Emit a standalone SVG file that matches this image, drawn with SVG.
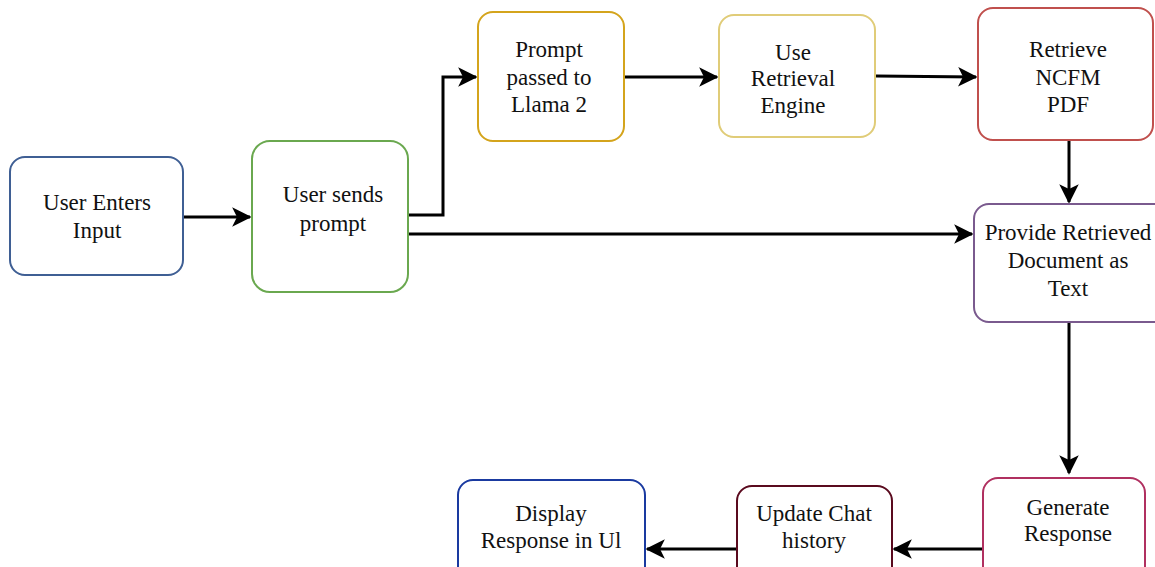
<svg xmlns="http://www.w3.org/2000/svg" width="1155" height="567" viewBox="0 0 1155 567">
<style>
.box{fill:#fff;stroke-width:2}
text{font-family:"Liberation Serif","Times New Roman",serif;font-size:23px;fill:#111;text-anchor:middle}
.c{fill:none;stroke:#000;stroke-width:3}
</style>
<defs>
<marker id="a" viewBox="0 0 12 12" refX="11" refY="6" markerWidth="6.5" markerHeight="6.5" orient="auto">
<path d="M0,0 L12,6 L0,12 L3,6 Z" fill="#000"/>
</marker>
</defs>
<rect width="1155" height="567" fill="#fff"/>
<g id="connectors">
<line class="c" x1="184" y1="217" x2="250" y2="217" marker-end="url(#a)"/>
<polyline class="c" points="409,215 443,215 443,77 476,77" marker-end="url(#a)"/>
<line class="c" x1="625" y1="77" x2="717" y2="77" marker-end="url(#a)"/>
<line class="c" x1="876" y1="76" x2="976" y2="77" marker-end="url(#a)"/>
<line class="c" x1="409" y1="234" x2="972" y2="234" marker-end="url(#a)"/>
<line class="c" x1="1069" y1="141" x2="1069" y2="202" marker-end="url(#a)"/>
<line class="c" x1="1069" y1="323" x2="1069" y2="473" marker-end="url(#a)"/>
<line class="c" x1="982" y1="549" x2="894" y2="549" marker-end="url(#a)"/>
<line class="c" x1="736" y1="549" x2="647" y2="549" marker-end="url(#a)"/>
</g>
<g id="n1"><rect class="box" x="10" y="157" width="173" height="118" rx="15" stroke="#3f5f94"/>
<text x="97" y="210">User Enters</text><text x="97" y="238">Input</text></g>
<g id="n2"><rect class="box" x="252" y="141" width="156" height="151" rx="18" stroke="#6aa84f"/>
<text x="333" y="202">User sends</text><text x="333" y="231">prompt</text></g>
<g id="n3"><rect class="box" x="478" y="12" width="146" height="129" rx="15" stroke="#d4a41c"/>
<text x="549" y="57">Prompt</text><text x="549" y="85">passed to</text><text x="549" y="112">Llama 2</text></g>
<g id="n4"><rect class="box" x="719" y="15" width="156" height="122" rx="15" stroke="#e0cc78"/>
<text x="793" y="60">Use</text><text x="793" y="86">Retrieval</text><text x="793" y="113">Engine</text></g>
<g id="n5"><rect class="box" x="978" y="8" width="175" height="132" rx="15" stroke="#c0504d"/>
<text x="1068" y="57">Retrieve</text><text x="1068" y="85">NCFM</text><text x="1068" y="112">PDF</text></g>
<g id="n6"><rect class="box" x="974" y="204" width="200" height="118" rx="15" stroke="#7a5a8e"/>
<text x="1068" y="240">Provide Retrieved</text><text x="1068" y="268">Document as</text><text x="1068" y="296">Text</text></g>
<g id="n7"><rect class="box" x="983" y="478" width="162" height="110" rx="15" stroke="#b03060"/>
<text x="1068" y="515">Generate</text><text x="1068" y="541">Response</text></g>
<g id="n8"><rect class="box" x="737" y="486" width="155" height="100" rx="15" stroke="#5a0a1e"/>
<text x="814" y="521">Update Chat</text><text x="814" y="548">history</text></g>
<g id="n9"><rect class="box" x="458" y="480" width="187" height="110" rx="15" stroke="#1a3aa0" stroke-width="2.5"/>
<text x="551" y="521">Display</text><text x="551" y="548">Response in Ul</text></g>
</svg>
